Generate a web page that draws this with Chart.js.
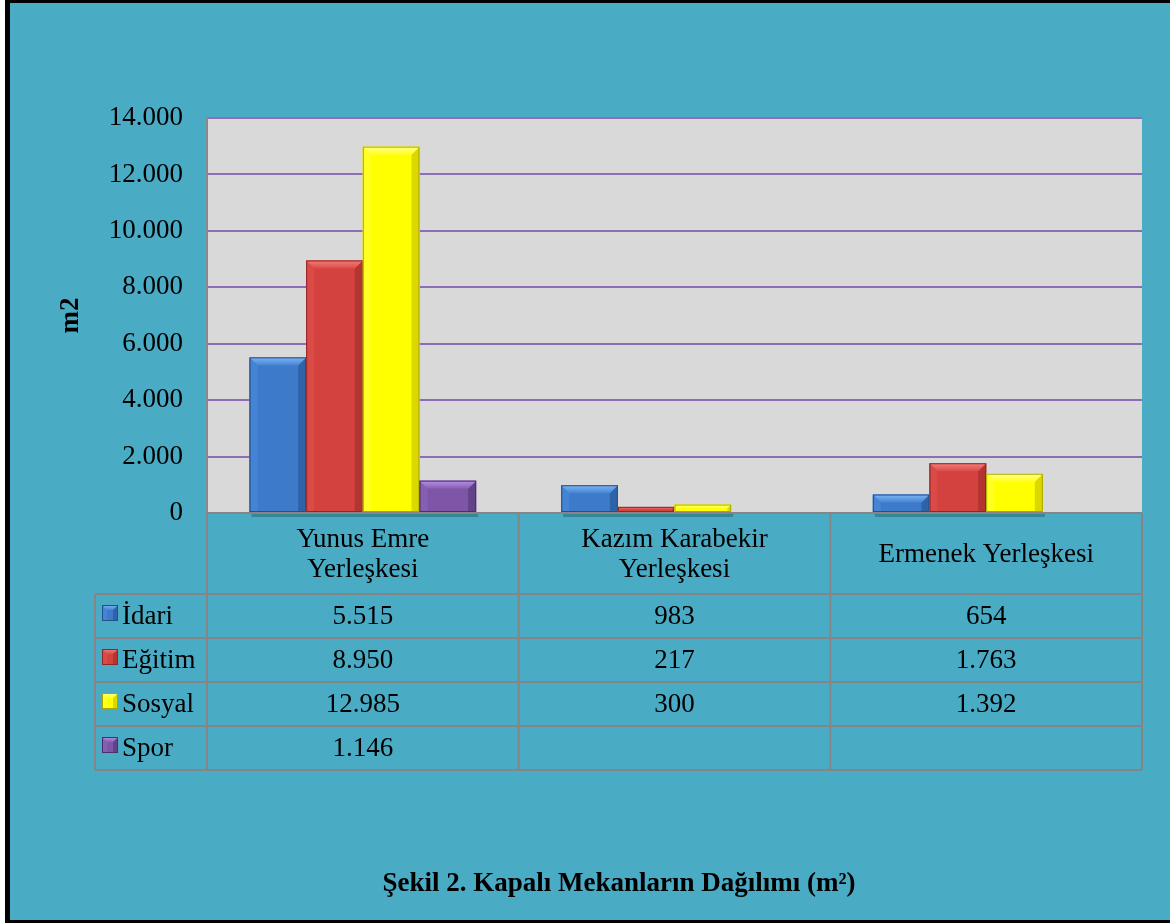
<!DOCTYPE html>
<html><head><meta charset="utf-8">
<script src="https://cdn.jsdelivr.net/npm/chart.js@4.4.1/dist/chart.umd.min.js"></script>
<style>html,body{margin:0;padding:0;background:#fff;overflow:hidden}canvas{display:block}</style>
</head><body>
<canvas id="c" width="1170" height="923"></canvas>
<script>
// ---- data ----
const categories = [['Yunus Emre', 'Yerleşkesi'], ['Kazım Karabekir', 'Yerleşkesi'], ['Ermenek Yerleşkesi']];
const seriesNames = ['İdari', 'Eğitim', 'Sosyal', 'Spor'];
const idari  = [5515, 983, 654];
const egitim = [8950, 217, 1763];
const sosyal = [12985, 300, 1392];
const spor   = [1146, null, null];
const yMin = 0, yMax = 14000, yStep = 2000;
const axisTitle = 'm2';
const figureCaption = 'Şekil 2. Kapalı Mekanların Dağılımı (m²)';

// ---- styles ----
const baseCol  = ['#3D7ACA', '#D4423F', '#FFFF00', '#7D56A8'];
const lightCol = ['#7DB6F4', '#F47E7A', '#FFFF8A', '#B792E6'];
const sideCol  = ['#4584D4', '#DA4B48', '#FFFF22', '#865FB2'];
const darkCol  = ['#2F63A8', '#B23532', '#D9D900', '#634388'];
const edgeCol  = ['#24508A', '#8E2725', '#A8A800', '#4A3068'];
const teal = '#4AABC5';
const serif = '"Liberation Serif", "Times New Roman", serif';
const gridCol = '#8D6DB5';
const tableCol = '#858585';

function fmt(v) {
  if (v === null || v === undefined) return '';
  return String(v).replace(/\B(?=(\d{3})+(?!\d))/g, '.');
}

const allSeries = [idari, egitim, sosyal, spor];

const framePlugin = {
  id: 'frame',
  beforeDraw(chart) {
    const ctx = chart.ctx, W = chart.width, H = chart.height;
    ctx.save();
    ctx.fillStyle = '#ffffff'; ctx.fillRect(0, 0, W, H);
    ctx.fillStyle = '#000000'; ctx.fillRect(5, 0, W - 5, H);
    ctx.fillStyle = teal; ctx.fillRect(10, 3, W - 10, H - 6);
    const a = chart.chartArea;
    ctx.fillStyle = '#D9D9D9';
    ctx.fillRect(a.left, a.top, a.right - a.left, a.bottom - a.top);
    ctx.restore();
  }
};

function bevelRect(ctx, left, top, right, bottom, i, b) {
  ctx.fillStyle = baseCol[i];
  ctx.fillRect(left, top, right - left, bottom - top);
  // left side
  ctx.fillStyle = sideCol[i];
  ctx.beginPath();
  ctx.moveTo(left, top); ctx.lineTo(left + b, top + b); ctx.lineTo(left + b, bottom); ctx.lineTo(left, bottom); ctx.closePath(); ctx.fill();
  // right side
  ctx.fillStyle = darkCol[i];
  ctx.beginPath();
  ctx.moveTo(right, top); ctx.lineTo(right - b, top + b); ctx.lineTo(right - b, bottom); ctx.lineTo(right, bottom); ctx.closePath(); ctx.fill();
  // top
  const g = ctx.createLinearGradient(0, top, 0, top + b);
  g.addColorStop(0, lightCol[i]);
  g.addColorStop(1, sideCol[i]);
  ctx.fillStyle = g;
  ctx.beginPath();
  ctx.moveTo(left, top); ctx.lineTo(right, top); ctx.lineTo(right - b, top + b); ctx.lineTo(left + b, top + b); ctx.closePath(); ctx.fill();
  ctx.strokeStyle = edgeCol[i]; ctx.lineWidth = 1;
  ctx.strokeRect(left + 0.5, top + 0.5, right - left - 1, bottom - top - 1);
}

const bevelPlugin = {
  id: 'bevel',
  afterDatasetsDraw(chart) {
    const ctx = chart.ctx;
    ctx.save();
    chart.data.datasets.forEach((ds, i) => {
      const meta = chart.getDatasetMeta(i);
      meta.data.forEach((el, j) => {
        if (ds.data[j] === null) return;
        const p = el.getProps(['x', 'y', 'base', 'width'], true);
        const left = p.x - p.width / 2, right = p.x + p.width / 2;
        const top = Math.min(p.y, p.base), bottom = Math.max(p.y, p.base);
        ctx.fillStyle = 'rgba(30,60,75,0.35)';
        ctx.fillRect(left + 2, bottom, right - left, 5);
        const b = Math.min(8, (bottom - top) / 2);
        bevelRect(ctx, left, top, right, bottom, i, b);
      });
    });
    ctx.restore();
  }
};

const tablePlugin = {
  id: 'datatable',
  afterDraw(chart) {
    const ctx = chart.ctx, a = chart.chartArea, x = chart.scales.x;
    const n = chart.data.labels.length;
    const colW = (a.right - a.left) / n;
    const tableLeft = 95;
    const headerBottom = a.bottom + 81;
    const rowH = 44;
    const rows = seriesNames.length;
    const tableBottom = headerBottom + rows * rowH;
    ctx.save();
    ctx.fillStyle = '#000';
    ctx.font = '27px ' + serif;
    ctx.textAlign = 'center';
    ctx.textBaseline = 'middle';
    chart.data.labels.forEach((lab, j) => {
      const cx = x.getPixelForValue(j);
      const lines = Array.isArray(lab) ? lab : [lab];
      const lh = 30;
      const cy = (a.bottom + headerBottom) / 2;
      lines.forEach((ln, k) => {
        ctx.fillText(ln, cx, cy - (lines.length - 1) * lh / 2 + k * lh + 1);
      });
    });
    seriesNames.forEach((name, r) => {
      const top = headerBottom + r * rowH;
      const cy = top + rowH / 2 + 1;
      ctx.save();
      bevelRect(ctx, 102, top + 11, 118, top + 27, r, 5);
      ctx.restore();
      ctx.fillStyle = '#000';
      ctx.font = '27px ' + serif;
      ctx.textAlign = 'left';
      ctx.fillText(name, 122, cy);
      ctx.textAlign = 'center';
      allSeries[r].forEach((v, j) => {
        ctx.fillText(fmt(v), x.getPixelForValue(j), cy);
      });
    });
    ctx.strokeStyle = tableCol;
    ctx.lineWidth = 2;
    ctx.beginPath();
    ctx.moveTo(a.left, a.bottom); ctx.lineTo(a.right, a.bottom);
    for (let r = 0; r <= rows; r++) {
      const y = headerBottom + r * rowH;
      ctx.moveTo(tableLeft, y); ctx.lineTo(a.right, y);
    }
    ctx.moveTo(tableLeft, headerBottom); ctx.lineTo(tableLeft, tableBottom);
    for (let j = 0; j <= n; j++) {
      const xx = a.left + j * colW;
      ctx.moveTo(xx, a.bottom); ctx.lineTo(xx, tableBottom);
    }
    ctx.stroke();
    ctx.fillStyle = '#000';
    ctx.font = 'bold 27px ' + serif;
    ctx.textAlign = 'center';
    ctx.fillText(figureCaption, 619, 884);
    ctx.restore();
  }
};

new Chart(document.getElementById('c'), {
  type: 'bar',
  data: {
    labels: categories,
    datasets: seriesNames.map((name, i) => ({
      label: name,
      data: allSeries[i],
      backgroundColor: baseCol[i],
      borderWidth: 0,
      categoryPercentage: 0.727,
      barPercentage: 1.0
    }))
  },
  options: {
    responsive: false,
    animation: false,
    devicePixelRatio: 1,
    layout: { padding: { left: 0, top: 118, right: 28, bottom: 410 } },
    plugins: { legend: { display: false }, tooltip: { enabled: false }, title: { display: false } },
    scales: {
      x: { display: false },
      y: {
        min: yMin, max: yMax,
        ticks: {
          stepSize: yStep,
          padding: 24,
          color: '#000',
          font: { family: serif, size: 27 },
          callback: (v) => fmt(v)
        },
        grid: { color: gridCol, lineWidth: 2, drawTicks: false },
        border: { display: true, color: '#8A8A8A', width: 2 },
        title: {
          display: true, text: axisTitle, color: '#000',
          font: { family: serif, size: 27, weight: 'bold' },
          padding: { top: 55, bottom: 0 }
        },
        afterFit: (scale) => { scale.width = 207; }
      }
    }
  },
  plugins: [framePlugin, bevelPlugin, tablePlugin]
});
</script>
</body></html>
